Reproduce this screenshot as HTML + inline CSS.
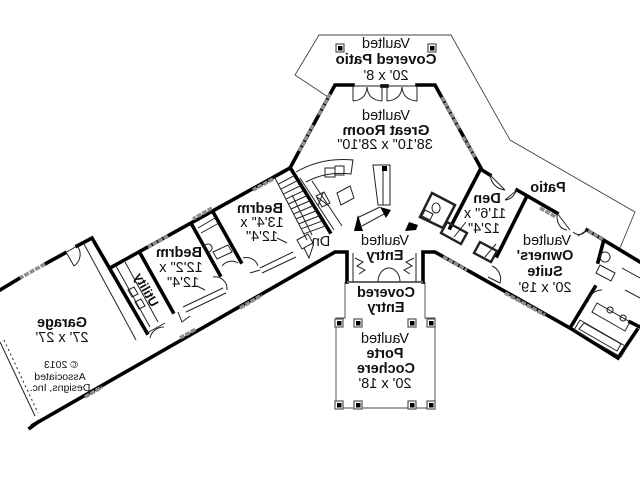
<!DOCTYPE html>
<html><head><meta charset="utf-8">
<style>
html,body{margin:0;padding:0;background:#fff;}
svg{display:block}
text{font-family:"Liberation Sans",Arial,sans-serif;fill:#111;}
.b{font-weight:bold;}
</style></head><body>
<svg width="640" height="480" viewBox="0 0 640 480" xmlns="http://www.w3.org/2000/svg">
<rect width="640" height="480" fill="#fff"/>

<!-- patio outlines (thin) -->
<g fill="none" stroke="#444" stroke-width="0.9">
<polyline points="328,97 295,75 319,35 451,35 510,140 635,212 620,248"/>
<!-- porte cochere / covered entry -->
<path d="M345,282 V318 H336 V408 H435 V318 H425 V282"/>
</g>

<!-- thick walls -->
<g fill="none" stroke="#000" stroke-width="3.6" stroke-linecap="square" stroke-linejoin="miter">
<!-- great room -->
<polyline points="353,85 335,85 290,168"/>
<polyline points="417,85 435,85 482,170 490,175"/>
<line x1="382" y1="86" x2="387" y2="86"/>
<!-- left wing top -->
<line x1="290" y1="168" x2="110" y2="268"/>
<!-- garage -->
<polyline points="65,253 45,264"/>
<polyline points="20,278 0,290"/>
<polyline points="77,246 92,238 147,333"/>
<line x1="30" y1="428" x2="38" y2="422"/>
<!-- left wing bottom -->
<polyline points="33,425 335,252 347,252 347,282"/>
<!-- entry right + right wing bottom -->
<polyline points="423,282 423,252 435,252 570,328 618,358 637,330"/>
<!-- right wing top -->
<line x1="517" y1="190" x2="557" y2="213"/>
<line x1="587" y1="230" x2="640" y2="262"/>
<!-- den -->
<line x1="480" y1="170" x2="450" y2="228"/>
<line x1="527" y1="196" x2="497" y2="256"/>
<!-- left wing interior walls -->
<line x1="140" y1="253" x2="173" y2="312"/>
<line x1="192" y1="225" x2="220" y2="275"/>
<line x1="213" y1="212" x2="241" y2="262"/>
<line x1="291" y1="169" x2="330" y2="232"/>
<!-- owners bath -->
<line x1="595" y1="287" x2="570" y2="328"/>
<line x1="603" y1="243" x2="598" y2="262"/>
<line x1="630" y1="322" x2="640" y2="327"/>
</g>

<!-- window segments (gray) -->
<g fill="none" stroke="#8d8d8d" stroke-width="3.6" stroke-dasharray="5 1.2">
<line x1="330" y1="94" x2="318" y2="116"/>
<line x1="313" y1="125" x2="299" y2="151"/>
<line x1="442" y1="97" x2="460" y2="130"/>
<line x1="463" y1="137" x2="475" y2="157"/>
<line x1="273" y1="179" x2="253" y2="190"/>
<line x1="212" y1="208" x2="193" y2="219"/>
<line x1="168" y1="236" x2="148" y2="247"/>
<line x1="45" y1="264" x2="20" y2="278"/>
<line x1="85" y1="397" x2="102" y2="387"/>
<line x1="180" y1="338" x2="196" y2="329"/>
<line x1="240" y1="308" x2="262" y2="295"/>
<line x1="443" y1="257" x2="467" y2="270"/>
<line x1="505" y1="293" x2="545" y2="315"/>
<line x1="540" y1="208" x2="556" y2="217"/>
<line x1="588" y1="231" x2="603" y2="239"/>
</g>

<!-- thin details -->
<g fill="none" stroke="#222" stroke-width="1">
<!-- great room patio doors -->
<line x1="353" y1="86" x2="417" y2="86"/>
<path d="M353,86 V101 M382,86 V101 M353,101 Q366,100 367,87 M382,101 Q368,100 367,87"/>
<path d="M387,86 V101 M417,86 V101 M387,101 Q401,100 402,87 M417,101 Q403,100 402,87"/>
<!-- garage door and step -->
<path d="M77,246 L65,253 M66,252 L74,266 M74,266 A14,14 0 0 0 78,247"/>
<line x1="0" y1="342" x2="35" y2="416"/>
<line x1="4" y1="340" x2="38" y2="413" stroke-dasharray="2 3"/>
<line x1="84" y1="244" x2="136" y2="340"/>
<!-- utility -->
<line x1="116" y1="266" x2="150" y2="327"/>
<line x1="125" y1="262" x2="158" y2="322"/>
<path d="M128,290 l6,-3 l4,7 l-6,3 z M135,302 l6,-3 l4,7 l-6,3 z"/>
<path d="M147,333 L165,323 M150,338 A14,14 0 0 1 164,327"/>
<!-- left bedroom closet/doors -->
<path d="M183,307 L223,288 M186,312 L226,293 M213,277 A12,12 0 0 1 227,290 M178,312 L182,322 L190,316"/>
<path d="M197,286 L205,290"/>
<!-- bath between bedrooms -->
<path d="M198,228 L215,218 M201,233 L219,223 M208,244 a4,4 0 1 0 0.1,0 M213,252 L228,245 L232,252 L217,259 Z"/>
<path d="M222,266 A12,12 0 0 1 238,263"/>
<!-- right bedroom closet/doors -->
<path d="M260,268 L293,252 M262,273 L296,257 M243,258 A12,12 0 0 1 258,266 M250,273 L260,270"/>
<path d="M277,238 L287,243"/>
<!-- stairs -->
<line x1="275" y1="178" x2="307" y2="240"/>
<path d="M278.2,184.2 L294.9,175.3 M280.8,189.2 L298,180.3 M283.3,194.1 L301.1,185.4 M285.9,199.1 L304.3,190.4 M288.4,204 L307.4,195.5 M291,209 L310.5,200.5 M293.6,214 L313.6,205.5 M296.1,218.9 L316.7,210.6 M298.7,223.9 L319.9,215.6 M301.2,228.8 L323,220.7 M303.8,233.8 L326.1,225.7"/>
<path d="M292,195 L312,235"/>
<path d="M297,240 L308,234 L313,243 L302,249 Z M304,248 L309,258 L313,246"/>
<!-- kitchen -->
<path d="M296,172 Q322,157 353,160 L351,174 Q326,171 306,182"/>
<path d="M300,178 L334,230 M312,181 L342,226"/>
<path d="M325,168 h10 v9 h-10 z M335,166 h9 v9 h-9 z"/>
<path d="M316,196 l8,-4 l6,11 l-8,4 z M317,197 l12,9 M323,193 l-5,13"/>
<path d="M337,193 L350,186 L354,198 L341,205 Z"/>
<!-- fireplace -->
<path d="M373,165 H390 V205 H378 Z M383,167 v38"/>
<path d="M357,218 L380,207 M362,226 L384,214"/>
<!-- entry -->
<line x1="347" y1="282" x2="423" y2="282" stroke="#666" stroke-width="2"/>
<path d="M353,253 V282 M416,253 V282 M378,282 A11,14 0 0 1 400,282"/>
<path d="M355,258 l8,4 l-6,4 l8,4 l-6,4 M414,258 l-8,4 l6,4 l-8,4 l6,4"/>
<!-- powder room -->
<path d="M432,193 L455,205 L443,228 L420,217 Z" stroke-width="2.5"/>
<path d="M436,203 a4,5 0 1 0 0.1,0 M425,210 l8,4 l-3,6 l-8,-4 z"/>
<!-- den doors & closets -->
<path d="M490,175 Q492,188 505,190 M517,190 Q512,200 505,200 M490,175 L505,190 M517,190 L505,200"/>
<path d="M447,222 L467,233 L461,244 L441,233 Z M480,242 L497,251 L491,262 L474,253 Z" stroke-width="2.4"/>
<path d="M454,237 L466,222 M485,257 L496,244"/>
<path d="M492,266 A14,14 0 0 1 500,283 L488,277"/>
<!-- owners patio door -->
<path d="M557,213 Q556,228 567,230 M587,230 Q580,238 573,232 M557,213 L570,230 M587,230 L578,236"/>
<!-- owners bath -->
<path d="M600,265 l15,8 l-4,8 l-15,-8 z M605,252 a5,5 0 1 0 0.1,0"/>
<path d="M588,302 A14,14 0 0 1 602,290"/>
<path d="M597,303 L630,322 L625,331 L592,312 Z"/>
<path d="M610,307 a3,3 0 1 0 0.1,0 M623,315 a3,3 0 1 0 0.1,0"/>
<path d="M580,320 L627,347 L621,357 L574,330 Z M584,323 L621,344 L617,351 L579,329 Z"/>
<path d="M622,268 L640,278 M625,290 L640,298"/>
</g>

<!-- black fills -->
<g fill="#000" stroke="none">
<polygon points="354,231 358,215 363,231"/>
<polygon points="380,207 391,210 386,218"/>
<polygon points="405,231 409,222 418,225 416,230"/>
<rect x="382" y="166" width="5" height="5"/>
</g>

<!-- columns -->
<g fill="#fff" stroke="#555" stroke-width="1.2">
<rect x="336" y="44" width="8" height="8"/>
<rect x="428" y="44" width="8" height="8"/>
<rect x="335" y="319" width="8" height="8"/>
<rect x="354" y="319" width="8" height="8"/>
<rect x="408" y="319" width="8" height="8"/>
<rect x="427" y="319" width="8" height="8"/>
<rect x="335" y="401" width="8" height="8"/>
<rect x="354" y="401" width="8" height="8"/>
<rect x="408" y="401" width="8" height="8"/>
<rect x="427" y="401" width="8" height="8"/>
</g>
<g fill="#000">
<rect x="338" y="46" width="4.5" height="4.5"/>
<rect x="430" y="46" width="4.5" height="4.5"/>
<rect x="337" y="321" width="4.5" height="4.5"/>
<rect x="356" y="321" width="4.5" height="4.5"/>
<rect x="410" y="321" width="4.5" height="4.5"/>
<rect x="429" y="321" width="4.5" height="4.5"/>
<rect x="337" y="403" width="4.5" height="4.5"/>
<rect x="356" y="403" width="4.5" height="4.5"/>
<rect x="410" y="403" width="4.5" height="4.5"/>
<rect x="429" y="403" width="4.5" height="4.5"/>
</g>

<!-- labels (mirrored like the reference) -->
<g text-anchor="middle" font-size="14.5">
<text transform="translate(386,48) scale(-1,1)">Vaulted</text>
<text class="b" font-size="15" transform="translate(386,64) scale(-1,1)">Covered Patio</text>
<text transform="translate(386,80) scale(-1,1)">20' x 8'</text>

<text transform="translate(386,120) scale(-1,1)">Vaulted</text>
<text class="b" font-size="15.2" transform="translate(386,135) scale(-1,1)">Great Room</text>
<text transform="translate(385,149) scale(-1,1)">38'10" x 28'10"</text>

<text class="b" transform="translate(487,203) scale(-1,1)">Den</text>
<text transform="translate(485,218) scale(-1,1)">11'6" x</text>
<text transform="translate(484,233) scale(-1,1)">12'4"</text>

<text class="b" transform="translate(548,192) scale(-1,1)">Patio</text>

<text transform="translate(547,245) scale(-1,1)">Vaulted</text>
<text class="b" transform="translate(545,260) scale(-1,1)">Owners'</text>
<text class="b" transform="translate(545,276) scale(-1,1)">Suite</text>
<text transform="translate(545,292) scale(-1,1)">20' x 19'</text>

<text transform="translate(385,245) scale(-1,1)">Vaulted</text>
<text class="b" transform="translate(385,260) scale(-1,1)">Entry</text>

<text class="b" transform="translate(386,297) scale(-1,1)">Covered</text>
<text class="b" transform="translate(386,312) scale(-1,1)">Entry</text>

<text transform="translate(385,343) scale(-1,1)">Vaulted</text>
<text class="b" transform="translate(385,358) scale(-1,1)">Porte</text>
<text class="b" transform="translate(386,373) scale(-1,1)">Cochere</text>
<text transform="translate(385,388) scale(-1,1)">20' x 18'</text>

<text class="b" transform="translate(260,213) scale(-1,1)">Bedrm</text>
<text transform="translate(262,227) scale(-1,1)">13'4" x</text>
<text transform="translate(262,241) scale(-1,1)">12'4"</text>

<text class="b" transform="translate(179,257) scale(-1,1)">Bedrm</text>
<text transform="translate(181,272) scale(-1,1)">12'2" x</text>
<text transform="translate(183,287) scale(-1,1)">12'4"</text>

<text transform="translate(321,246) scale(-1,1)">Dn</text>

<text class="b" font-size="13" transform="translate(146,290) rotate(61) scale(-1,1)" dy="4">Utility</text>

<text class="b" transform="translate(62,327) scale(-1,1)">Garage</text>
<text transform="translate(62,342) scale(-1,1)">27' x 27'</text>
<text font-size="10.5" transform="translate(61,368) scale(-1,1)">© 2013</text>
<text font-size="10.5" transform="translate(60,380) scale(-1,1)">Associated</text>
<text font-size="10.5" transform="translate(60,391) scale(-1,1)">Designs, Inc.</text>
</g>
</svg>
</body></html>
